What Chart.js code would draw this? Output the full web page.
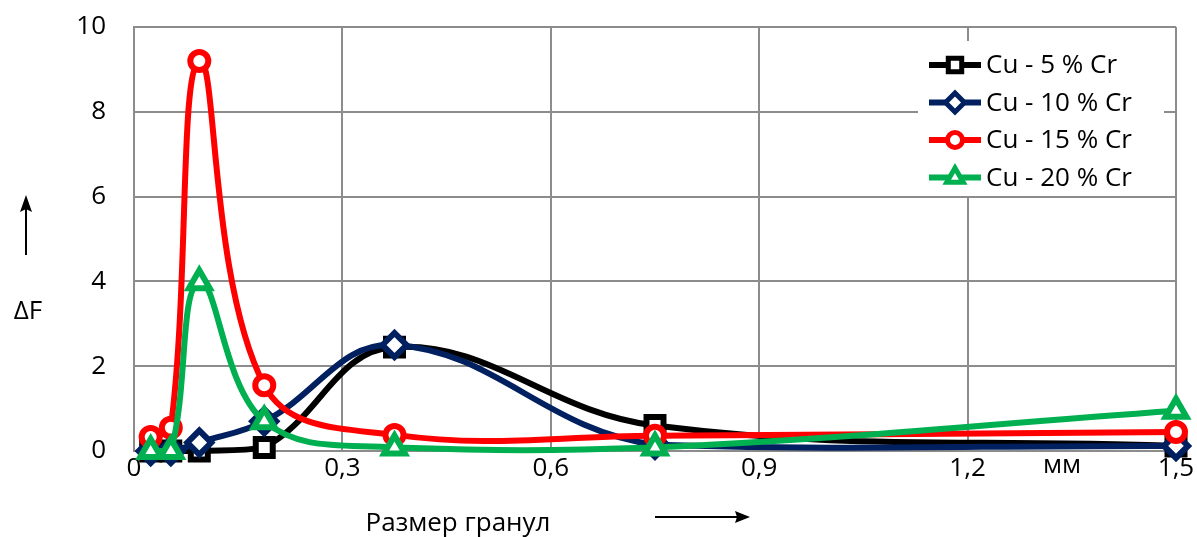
<!DOCTYPE html>
<html>
<head>
<meta charset="utf-8">
<script src="https://cdn.jsdelivr.net/npm/chart.js@4"></script>
<style>
  html, body { margin: 0; padding: 0; background: #fff; }
  #wrap { width: 1197px; height: 537px; position: relative; }
</style>
</head>
<body>
<div id="wrap"><canvas id="chart"></canvas></div>
<script>
// размер гранул, мм
const sizes = [0.024, 0.053, 0.094, 0.1875, 0.375, 0.75, 1.5];

// ΔF по сериям
const cr5  = [0.0, 0.0, 0.0, 0.08, 2.45, 0.6, 0.12];
const cr10 = [0.0, 0.0, 0.2, 0.7, 2.5, 0.15, 0.12];
const cr15 = [0.33, 0.55, 9.2, 1.55, 0.38, 0.36, 0.45];
const cr20 = [0.0, 0.0, 3.98, 0.7, 0.08, 0.08, 0.95];

const seriesNames = ['Cu - 5 % Cr', 'Cu - 10 % Cr', 'Cu - 15 % Cr', 'Cu - 20 % Cr'];
const xTicks = [0, 0.3, 0.6, 0.9, 1.2, 1.5];
const yTicks = [0, 2, 4, 6, 8, 10];

const FONT = '"Open Sans", "Noto Sans", sans-serif';
const FS = 26;

function toPoints(values) {
    return sizes.map(function(x, i) { return { x: x, y: values[i] }; });
}

function makeSet(label, values, color, style, radius, order) {
    return {
        label: label,
        data: toPoints(values),
        borderColor: color,
        backgroundColor: '#fff',
        borderWidth: 6,
        pointStyle: style,
        pointRadius: radius,
        pointBorderWidth: 6,
        pointBackgroundColor: '#fff',
        pointBorderColor: color,
        tension: 0.4,
        clip: false,
        order: order
    };
}

const datasets = [
    makeSet(seriesNames[0], cr5, '#000000', 'rect', 12, 3),
    makeSet(seriesNames[1], cr10, '#002060', 'rectRot', 12, 2),
    makeSet(seriesNames[2], cr15, '#ff0000', 'circle', 9, 1),
    makeSet(seriesNames[3], cr20, '#00b050', 'triangle', 12, 0)
];

// легенда и подписи осей рисуются вручную
const extras = {
    id: 'extras',
    afterDatasetsDraw: function(chart) {
        const ctx = chart.ctx;
        ctx.save();

        // фон легенды
        ctx.fillStyle = '#fff';
        ctx.fillRect(918, 41, 246, 155);

        ctx.font = FS + 'px ' + FONT;
        ctx.textBaseline = 'middle';
        ctx.textAlign = 'left';
        chart.data.datasets.forEach(function(ds, i) {
            const y = 65 + i * 37.5;
            const opts = {
                pointStyle: ds.pointStyle,
                radius: ds.pointStyle === 'circle' ? 7.5 : 9.5,
                borderWidth: 5
            };
            ctx.strokeStyle = ds.borderColor;
            ctx.lineWidth = 6;
            ctx.beginPath();
            ctx.moveTo(929, y);
            ctx.lineTo(981, y);
            ctx.stroke();
            ctx.fillStyle = '#fff';
            ctx.lineWidth = 5;
            Chart.helpers.drawPoint(ctx, opts, 955, y);
            ctx.fillStyle = '#000';
            ctx.fillText(ds.label, 986, y + 1);
        });

        // подписи осей
        ctx.fillStyle = '#000';
        ctx.textAlign = 'center';
        ctx.fillText('мм', 1062, 466);
        ctx.fillText('Размер гранул', 458, 524);
        ctx.fillText('\u0394F', 28, 312);

        ctx.strokeStyle = '#000';
        ctx.lineWidth = 2;
        // стрелка вправо
        ctx.beginPath();
        ctx.moveTo(655, 517);
        ctx.lineTo(745, 517);
        ctx.stroke();
        ctx.beginPath();
        ctx.moveTo(750, 517);
        ctx.lineTo(735, 511);
        ctx.lineTo(737, 517);
        ctx.lineTo(735, 523);
        ctx.closePath();
        ctx.fill();
        // стрелка вверх
        ctx.beginPath();
        ctx.moveTo(26, 255);
        ctx.lineTo(26, 200);
        ctx.stroke();
        ctx.beginPath();
        ctx.moveTo(26, 195);
        ctx.lineTo(20, 212);
        ctx.lineTo(26, 209);
        ctx.lineTo(32, 212);
        ctx.closePath();
        ctx.fill();

        ctx.restore();
    }
};

new Chart(document.getElementById('chart'), {
    type: 'line',
    data: { datasets: datasets },
    plugins: [extras],
    options: {
        responsive: true,
        maintainAspectRatio: false,
        animation: false,
        layout: { padding: { left: 0, top: 27, right: 21, bottom: 0 } },
        plugins: {
            legend: { display: false },
            tooltip: { enabled: false }
        },
        scales: {
            x: {
                type: 'linear',
                min: 0,
                max: 1.5,
                afterBuildTicks: function(axis) {
                    axis.ticks = xTicks.map(function(v) { return { value: v }; });
                },
                afterFit: function(axis) {
                    axis.height = 86;
                    axis.paddingLeft = 0;
                    axis.paddingRight = 0;
                },
                ticks: {
                    padding: 2,
                    color: '#000',
                    font: { family: FONT, size: FS },
                    maxRotation: 0,
                    callback: function(value) {
                        return value === 0 ? '0' : value.toFixed(1).replace('.', ',');
                    }
                },
                grid: { color: '#8c8c8c', lineWidth: 2, drawTicks: false },
                border: { color: '#8c8c8c', width: 2 }
            },
            y: {
                min: 0,
                max: 10,
                afterBuildTicks: function(axis) {
                    axis.ticks = yTicks.map(function(v) { return { value: v }; });
                },
                afterFit: function(axis) {
                    axis.width = 134;
                    axis.paddingTop = 0;
                    axis.paddingBottom = 0;
                },
                ticks: {
                    padding: 28,
                    color: '#000',
                    font: { family: FONT, size: FS }
                },
                grid: { color: '#8c8c8c', lineWidth: 2, drawTicks: false },
                border: { color: '#8c8c8c', width: 2 }
            }
        }
    }
});
</script>
</body>
</html>
